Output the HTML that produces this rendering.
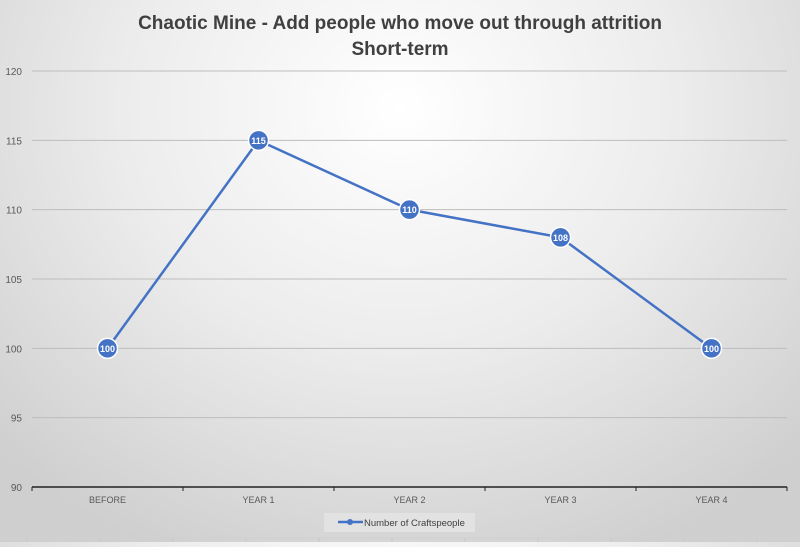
<!DOCTYPE html>
<html><head><meta charset="utf-8"><style>
html,body{margin:0;padding:0;}
body{width:800px;height:542px;overflow:hidden;background:radial-gradient(ellipse 70% 90% at 50% 20%,#ffffff 0%,#ececec 50%,#cfcfcf 100%);font-family:"Liberation Sans",sans-serif;}
</style></head><body>
<svg id="c" width="800" height="542" xmlns="http://www.w3.org/2000/svg">
<text x="400" y="29" text-anchor="middle" font-size="19" font-weight="bold" fill="#404040">Chaotic Mine - Add people who move out through attrition</text>
<text x="400" y="55" text-anchor="middle" font-size="19" font-weight="bold" fill="#404040">Short-term</text>
</svg>
<script>
const categories=["BEFORE","YEAR 1","YEAR 2","YEAR 3","YEAR 4"];
const values=[100,115,110,108,100];
const yTicks=[90,95,100,105,110,115,120];
const svg=document.getElementById('c');
const NS='http://www.w3.org/2000/svg';
const L=32,R=787,T=71,B=487,yMin=90,yMax=120;
const bw=(R-L)/categories.length;
const x=i=>L+bw*(i+0.5);
const y=v=>B-(v-yMin)/(yMax-yMin)*(B-T);
function mk(t,a,p){const e=document.createElementNS(NS,t);for(const k in a)e.setAttribute(k,a[k]);(p||svg).appendChild(e);return e;}
yTicks.forEach(v=>{
 if(v!==yMin){const g=mk('line',{x1:L,x2:R,y1:y(v),y2:y(v),stroke:'#bdbdbd','stroke-width':1});
 
 }
 const t=mk('text',{x:22,y:y(v)+4,'text-anchor':'end','font-size':10,fill:'#595959'});t.textContent=v;
 
 
});
const ax=mk('line',{x1:L,x2:R,y1:B,y2:B,stroke:'#222','stroke-width':1.5});


for(let i=0;i<=categories.length;i++){const tk=mk('line',{x1:L+bw*i,x2:L+bw*i,y1:B,y2:B+4,stroke:'#222'});
 
 }
categories.forEach((c,i)=>{const t=mk('text',{x:x(i),y:B+16,'text-anchor':'middle','font-size':9,fill:'#595959'});t.textContent=c;
 
 });
const line=mk('polyline',{points:values.map((v,i)=>x(i)+','+y(v)).join(' '),fill:'none',stroke:'#4472c4','stroke-width':2.5,'stroke-linejoin':'round'});


values.forEach((v,i)=>{
 const c=mk('circle',{cx:x(i),cy:y(v),r:10,fill:'#4472c4',stroke:'#fff','stroke-width':1.5});
 
 
 const t=mk('text',{x:x(i),y:y(v)+3.5,'text-anchor':'middle','font-size':9,'font-weight':'bold',fill:'#fff'});t.textContent=v;
 
 
});
const lg=mk('g',{});


mk('rect',{x:324,y:513,width:151,height:19,fill:'#e2e2e2'},lg);
mk('line',{x1:338,x2:363,y1:522,y2:522,stroke:'#4472c4','stroke-width':2.5},lg);
mk('circle',{cx:350,cy:522,r:3,fill:'#4472c4'},lg);
const lt=mk('text',{x:364,y:526,'font-size':9.5,fill:'#404040'},lg);lt.textContent='Number of Craftspeople';
const sg=mk('g',{});


mk('line',{x1:0,x2:800,y1:538,y2:538,stroke:'#d0d0d0'},sg);
for(let i=0;i<11;i++)mk('line',{x1:27+73*i,x2:27+73*i,y1:538,y2:542,stroke:'#c8c8c8'},sg);
</script>
</body></html>
